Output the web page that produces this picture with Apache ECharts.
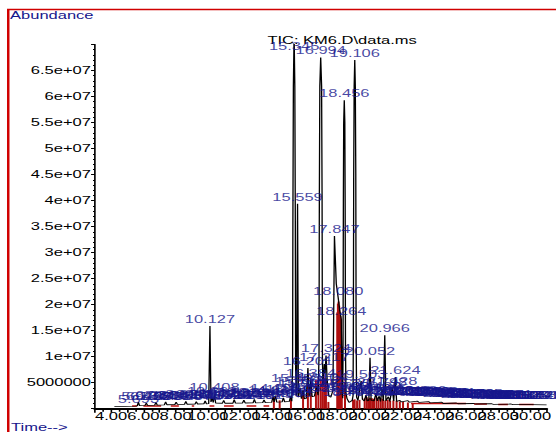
<!DOCTYPE html>
<html>
<head>
<meta charset="utf-8">
<script src="https://cdn.jsdelivr.net/npm/echarts@6/dist/echarts.min.js"></script>
<style>
html, body { margin: 0; padding: 0; background: #fff; overflow: hidden; }
/* the original printout is stretched sideways, so draw narrow and widen it */
#chart { width: 337px; height: 432px; transform: scaleX(1.65); transform-origin: 0 0; }
</style>
</head>
<body>
<div id="chart"></div>
<script>
// TIC trace [time (min), abundance]
var ticTrace = [
  [4.20,0.40e6],[5.50,0.50e6],[5.62,0.55e6],[5.69,1.25e6],[5.76,0.58e6],[6.10,0.62e6],[6.18,1.05e6],[6.26,0.64e6],
  [6.70,0.68e6],[6.78,1.20e6],[6.86,0.70e6],[7.30,0.74e6],[7.38,1.30e6],[7.46,0.76e6],[7.95,0.80e6],[8.03,1.25e6],
  [8.11,0.82e6],[8.55,0.85e6],[8.63,1.40e6],[8.71,0.86e6],[9.20,0.90e6],[9.28,1.35e6],[9.36,0.90e6],[9.75,0.92e6],
  [9.83,1.50e6],[9.91,0.94e6],[10.05,0.96e6],[10.127,15.9e6],[10.19,1.30e6],[10.263,2.10e6],[10.33,1.20e6],[10.408,2.75e6],
  [10.48,1.10e6],[10.90,1.05e6],[10.98,1.60e6],[11.06,1.05e6],[11.55,1.05e6],[11.63,1.75e6],[11.71,1.08e6],[12.15,1.10e6],
  [12.23,1.65e6],[12.31,1.10e6],[12.80,1.12e6],[12.88,1.80e6],[12.96,1.12e6],[13.40,1.15e6],[13.48,1.70e6],[13.56,1.15e6],
  [13.95,1.20e6],[14.037,2.30e6],[14.11,1.30e6],[14.192,2.55e6],[14.27,1.25e6],[14.60,1.30e6],[14.68,2.10e6],[14.76,1.30e6],
  [15.05,1.40e6],[15.13,2.40e6],[15.20,1.45e6],
  [15.22,1.50e6],[15.25,8.0e6],[15.27,36.0e6],[15.30,62.0e6],[15.345,72.0e6],[15.39,62.0e6],[15.42,36.0e6],[15.44,8.0e6],
  [15.47,3.00e6],[15.50,2.50e6],[15.559,39.4e6],[15.61,2.20e6],
  [15.718,4.00e6],[15.80,1.90e6],[15.902,3.60e6],[15.98,1.90e6],[16.10,2.00e6],[16.201,7.80e6],
  [16.28,2.40e6],[16.384,5.40e6],[16.46,2.30e6],[16.60,2.40e6],[16.752,4.20e6],[16.83,2.60e6],
  [16.86,2.60e6],[16.89,10.0e6],[16.91,40.0e6],[16.94,62.0e6],[16.994,67.5e6],[17.05,62.0e6],[17.08,40.0e6],[17.10,10.0e6],
  [17.13,4.50e6],[17.217,8.60e6],[17.27,6.80e6],[17.324,10.2e6],[17.40,5.20e6],[17.50,2.40e6],[17.62,2.20e6],
  [17.752,3.50e6],[17.847,33.2e6],[17.96,24.0e6],[18.080,21.3e6],[18.17,19.0e6],[18.264,17.3e6],[18.33,3.00e6],
  [18.36,2.00e6],[18.38,12.0e6],[18.40,40.0e6],[18.42,55.0e6],[18.456,59.3e6],[18.49,55.0e6],[18.51,40.0e6],[18.53,12.0e6],
  [18.56,3.00e6],[18.62,2.00e6],[18.75,1.20e6],[18.95,1.60e6],
  [19.00,2.50e6],[19.02,15.0e6],[19.04,45.0e6],[19.07,62.0e6],[19.106,67.0e6],[19.14,62.0e6],[19.17,45.0e6],[19.19,15.0e6],
  [19.22,2.20e6],[19.30,1.60e6],[19.503,5.30e6],[19.58,1.80e6],[19.70,1.50e6],[19.80,2.60e6],[19.88,1.50e6],[19.98,1.60e6],
  [20.052,9.80e6],[20.12,1.60e6],[20.30,1.50e6],[20.42,2.90e6],[20.50,1.50e6],[20.62,2.40e6],[20.70,1.40e6],[20.798,3.80e6],
  [20.88,1.50e6],[20.966,14.1e6],[21.04,1.50e6],[21.19,2.30e6],[21.28,1.40e6],[21.428,4.00e6],[21.52,1.50e6],[21.624,6.10e6],
  [21.70,1.40e6],[21.90,1.60e6],[22.00,1.30e6],[22.40,1.55e6],[22.50,1.25e6],[23.00,1.45e6],[23.10,1.20e6],[23.70,1.35e6],
  [23.80,1.10e6],[24.50,1.25e6],[24.60,1.00e6],[25.40,1.10e6],[25.50,0.95e6],[26.50,1.00e6],[26.60,0.90e6],[27.60,0.95e6],
  [27.70,0.85e6],[28.80,0.90e6],[28.90,0.80e6],[30.00,0.80e6],[31.00,0.75e6]
];

// labelled peaks [retention time, label height]
var peakLabels = [
  [10.127,15.9e6],[10.263,2.1e6],[10.408,2.75e6],[14.037,2.3e6],[14.192,2.55e6],[15.345,68.4e6],[15.458,4.6e6],
  [15.559,39.4e6],[15.718,4.0e6],[15.902,3.6e6],[16.201,7.8e6],[16.384,5.4e6],[16.752,4.2e6],[16.994,67.5e6],
  [17.104,4.8e6],[17.217,8.6e6],[17.324,10.2e6],[17.752,3.5e6],[17.847,33.2e6],[18.080,21.3e6],[18.264,17.3e6],
  [18.456,59.3e6],[18.530,3.5e6],[19.030,3.0e6],[19.106,67.0e6],[19.503,5.3e6],[19.800,2.6e6],[20.052,9.8e6],
  [20.420,2.9e6],[20.620,2.4e6],[20.798,3.8e6],[20.966,14.1e6],[21.190,2.3e6],[21.428,4.0e6],[21.624,6.1e6]
];

// small labelled peaks along the baseline
var minorLabels = [
  [5.693,0.55e6],[5.912,1.0e6],[6.184,1.05e6],[6.452,1.1e6],[6.781,1.2e6],[7.053,1.15e6],[7.384,1.3e6],[7.702,1.1e6],
  [8.031,1.25e6],[8.356,1.0e6],[8.634,1.4e6],[8.957,1.2e6],[9.281,1.35e6],[9.572,1.1e6],[9.834,1.5e6],[10.552,1.3e6],
  [10.771,1.5e6],[10.983,1.6e6],[11.214,1.4e6],[11.437,1.2e6],[11.633,1.75e6],[11.924,1.3e6],[12.231,1.65e6],[12.518,1.2e6],
  [12.884,1.8e6],[13.152,1.3e6],[13.483,1.7e6],[13.771,1.4e6],[14.405,1.6e6],[14.681,2.1e6],[14.903,1.7e6],[15.132,2.4e6],
  [16.052,2.5e6],[16.523,2.8e6],[17.521,2.6e6],[18.702,1.8e6],[19.302,2.0e6],[19.651,2.2e6],[20.218,2.2e6],[21.803,2.0e6],
  [21.951,1.8e6],[22.143,2.1e6],[22.318,2.2e6],[22.506,2.0e6],[22.694,2.1e6],[22.871,2.0e6],[23.052,2.1e6],[23.236,2.2e6],
  [23.419,2.0e6],[23.597,2.1e6],[23.784,1.9e6],[23.962,2.0e6],[24.148,1.9e6],[24.331,1.8e6],[24.513,1.9e6],[24.702,1.8e6],
  [24.889,1.7e6],[25.071,1.8e6],[25.256,1.7e6],[25.438,1.6e6],[25.627,1.7e6],[25.813,1.6e6],[25.994,1.5e6],[26.182,1.6e6],
  [26.367,1.5e6],[26.551,1.5e6],[26.735,1.6e6],[26.918,1.4e6],[27.104,1.5e6],[27.289,1.4e6],[27.472,1.4e6],[27.658,1.5e6],
  [27.841,1.3e6],[28.027,1.4e6],[28.213,1.3e6],[28.396,1.3e6],[28.581,1.4e6],[28.764,1.3e6],[28.952,1.3e6],[29.137,1.2e6],
  [29.318,1.3e6],[29.503,1.2e6],[29.689,1.3e6],[29.874,1.2e6],[30.058,1.2e6],[30.241,1.3e6],[30.429,1.2e6]
];

// integrated areas (red hatching) [time, height]
var redFill = [
  [14.09,2.2e6],[14.45,1.6e6],[15.15,1.8e6],[15.90,3.0e6],[16.20,5.0e6],[16.38,4.8e6],[16.70,5.5e6],[16.85,5.2e6],
  [17.00,5.6e6],[17.12,5.9e6],[17.22,6.0e6],[17.32,5.8e6],[17.47,1.3e6],[18.02,18.5e6],[18.06,20.2e6],[18.10,20.6e6],
  [18.14,19.8e6],[18.18,18.5e6],[18.22,17.8e6],[18.26,17.2e6],[18.30,12.0e6],[18.50,5.0e6],[19.00,1.7e6],[19.10,1.8e6],
  [19.25,1.6e6],[19.40,1.7e6],[19.72,2.0e6],[19.85,2.2e6],[19.95,1.9e6],[20.05,2.1e6],[20.18,2.0e6],[20.30,1.9e6],
  [20.45,2.2e6],[20.58,1.8e6],[20.72,2.0e6],[20.85,1.9e6],[21.00,1.6e6],[21.15,1.7e6],[21.30,1.5e6],[21.50,1.6e6],
  [21.70,1.5e6],[21.90,1.4e6],[22.10,1.3e6],[22.40,1.2e6],[22.70,1.1e6]
];

// integration baselines [start, end, level]
var redSegments = [
  [5.3,5.6,0.5e6],[6.0,7.1,0.5e6],[7.7,8.2,0.5e6],[9.0,9.15,0.5e6],[10.1,10.4,0.5e6],[11.0,11.6,0.5e6],
  [12.4,13.0,0.5e6],[13.45,13.8,0.5e6],[22.6,26.0,1.0e6],[26.5,27.3,0.9e6],[28.0,28.6,0.8e6],[29.3,30.2,0.8e6]
];

var blue = '#16168c';
var fontFam = '"Liberation Sans", Arial, sans-serif';

var segData = [];
redSegments.forEach(function (s) {
  segData.push([s[0], s[2]], [s[1], s[2]], [s[1], '-']);
});

var labelStyle = {
  show: true,
  position: 'top',
  distance: 1,
  color: blue,
  fontSize: 10,
  fontFamily: fontFam,
  formatter: function (p) { return p.value[0].toFixed(3); }
};

var myChart = echarts.init(document.getElementById('chart'), null, { renderer: 'svg' });

var option = {
  animation: false,
  grid: { left: 57.58, right: 0, top: 44.5, bottom: 23.3 },
  xAxis: {
    type: 'value',
    min: 3,
    max: 31,
    interval: 1,
    splitLine: { show: false },
    axisLine: { lineStyle: { color: '#000', width: 2 } },
    axisTick: { length: 4, lineStyle: { color: '#000', width: 1 } },
    minorTick: { show: true, splitNumber: 2, length: 3, lineStyle: { color: '#000', width: 1 } },
    axisLabel: {
      margin: 3,
      color: '#000',
      fontSize: 10,
      fontFamily: fontFam,
      hideOverlap: false,
      showMinLabel: true,
      showMaxLabel: true,
      formatter: function (v) {
        return (v >= 4 && v <= 30 && v % 2 === 0) ? v.toFixed(2) : '';
      }
    }
  },
  yAxis: {
    type: 'value',
    min: 0,
    max: 7e7,
    interval: 5e6,
    splitLine: { show: false },
    axisLine: { show: true, lineStyle: { color: '#000', width: 1 } },
    axisTick: { show: true, length: 2.4, lineStyle: { color: '#000' } },
    minorTick: { show: true, splitNumber: 5, length: 1.2, lineStyle: { color: '#000' } },
    axisLabel: {
      margin: 2.5,
      color: '#000',
      fontSize: 10,
      fontFamily: fontFam,
      formatter: function (v) {
        if (v === 0 || v === 7e7) return '';
        if (v === 5e6) return '5000000';
        return (v / 1e7) + 'e+07';
      }
    }
  },
  graphic: [
    { type: 'rect', silent: true, shape: { x: 5, y: 9.5, width: 400, height: 500 },
      style: { fill: 'none', stroke: '#d00000', lineWidth: 1.5 } },
    { type: 'text', x: 6.1, y: 16,
      style: { text: 'Abundance', fill: blue, font: '10px ' + fontFam, textVerticalAlign: 'middle' } },
    { type: 'text', x: 207.3, y: 40.7,
      style: { text: 'TIC: KM6.D\\data.ms', fill: '#000', font: '10px ' + fontFam, textAlign: 'center', textVerticalAlign: 'middle' } },
    { type: 'text', x: 6.7, y: 428,
      style: { text: 'Time-->', fill: blue, font: '10px ' + fontFam, textVerticalAlign: 'middle' } }
  ],
  series: [
    {
      type: 'bar',
      data: redFill,
      barWidth: 1.2,
      itemStyle: { color: '#b01010' },
      z: 1
    },
    {
      type: 'line',
      data: segData,
      showSymbol: false,
      connectNulls: false,
      lineStyle: { color: '#c01010', width: 1.5 },
      z: 2
    },
    {
      type: 'line',
      data: ticTrace,
      showSymbol: false,
      lineStyle: { color: '#000', width: 0.8 },
      z: 3
    },
    {
      type: 'scatter',
      data: minorLabels,
      symbolSize: 1,
      itemStyle: { color: 'rgba(0,0,0,0)' },
      label: labelStyle,
      z: 4
    },
    {
      type: 'scatter',
      data: peakLabels,
      symbolSize: 1,
      itemStyle: { color: 'rgba(0,0,0,0)' },
      label: labelStyle,
      z: 5
    }
  ]
};

myChart.setOption(option);
</script>
</body>
</html>
